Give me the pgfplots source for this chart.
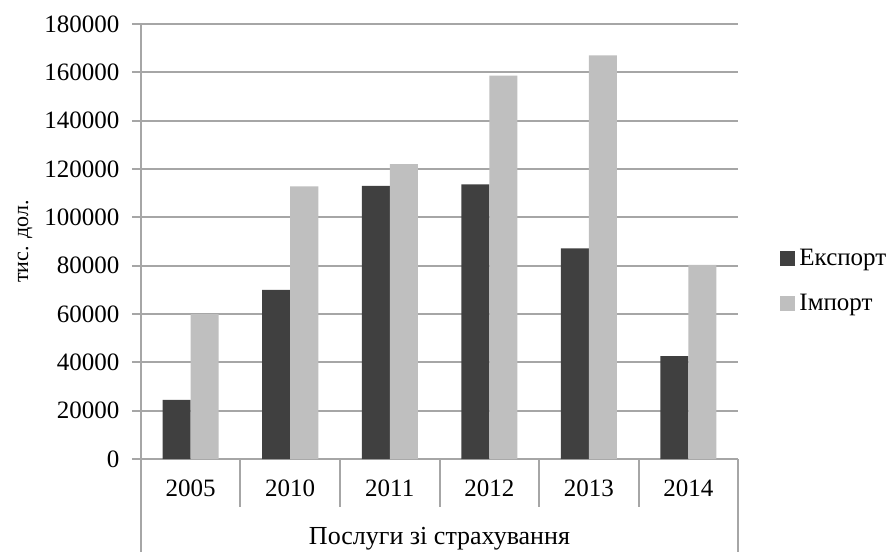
\documentclass[border=0pt]{standalone}
\usepackage{fontspec}
\setmainfont{Liberation Serif}
\usepackage{pgfplots}
\pgfplotsset{compat=1.18}
\definecolor{exportc}{HTML}{404040}
\definecolor{importc}{HTML}{BFBFBF}
\definecolor{gridc}{HTML}{A6A6A6}

\begin{document}
\begin{tikzpicture}[x=1pt,y=1pt]
\path[use as bounding box] (0,0) rectangle (447,276);
\begin{axis}[
    at={(70.5pt,46.5pt)}, anchor=south west,
    scale only axis, width=298.5pt, height=217.5pt,
    ybar=0pt, bar width=14pt,
    xmin=-0.5, xmax=5.5, ymin=0, ymax=180000,
    ytick={0,20000,...,180000},
    scaled y ticks=false,
    yticklabel style={/pgf/number format/fixed, /pgf/number format/precision=0,
        /pgf/number format/set thousands separator={},
        /pgf/number format/assume math mode=true, xshift=-2.8pt},
    xtick={0,...,5},
    xticklabels={2005,2010,2011,2012,2013,2014},
    xtick style={draw=none},
    ytick style={draw=gridc, line width=1pt},
    tick align=outside, major tick length=4.5pt, tick pos=left,
    axis x line*=bottom, axis y line*=left,
    axis line style={draw=gridc, line width=1pt},
    ymajorgrids, grid style={draw=gridc, line width=1pt},
    tick label style={font=\fontsize{12.5}{15}\selectfont},
    xticklabel style={anchor=base, yshift=-14pt},
    ylabel={тис. дол.},
    ylabel style={at={(axis description cs:-0.194,0.5)}, anchor=center,
        font=\fontsize{11}{13}\selectfont},
    xlabel={Послуги зі страхування},
    xlabel style={at={(axis description cs:0.5,-0.183)}, anchor=center,
        font=\fontsize{13}{15}\selectfont},
    legend style={at={(axis description cs:1.0704,0.409)}, anchor=west,
        draw=none, fill=none, inner sep=0pt, row sep=8.75pt,
        font=\fontsize{12.5}{15}\selectfont},
    legend cell align=left,
    legend image code/.code={\fill[#1] (0pt,-3.75pt) rectangle (7.5pt,3.75pt);},
    after end axis/.code={
        \foreach \k in {0.5,1.5,2.5,3.5,4.5}
            \draw[gridc, line width=1pt] (axis cs:\k,0) -- ++(0,-24pt);
        \draw[gridc, line width=1pt] (rel axis cs:0,0) -- ++(0,-46.5pt);
        \draw[gridc, line width=1pt] (rel axis cs:1,0) -- ++(0,-46.5pt);
    },
]
\addplot[fill=exportc, draw=none] coordinates {(0,24500) (1,70000) (2,113000) (3,113600) (4,87200) (5,42600)};
\addplot[fill=importc, draw=none] coordinates {(0,60000) (1,112800) (2,122000) (3,158600) (4,167000) (5,80300)};
\legend{Експорт, Імпорт}
\end{axis}
\end{tikzpicture}
\end{document}
